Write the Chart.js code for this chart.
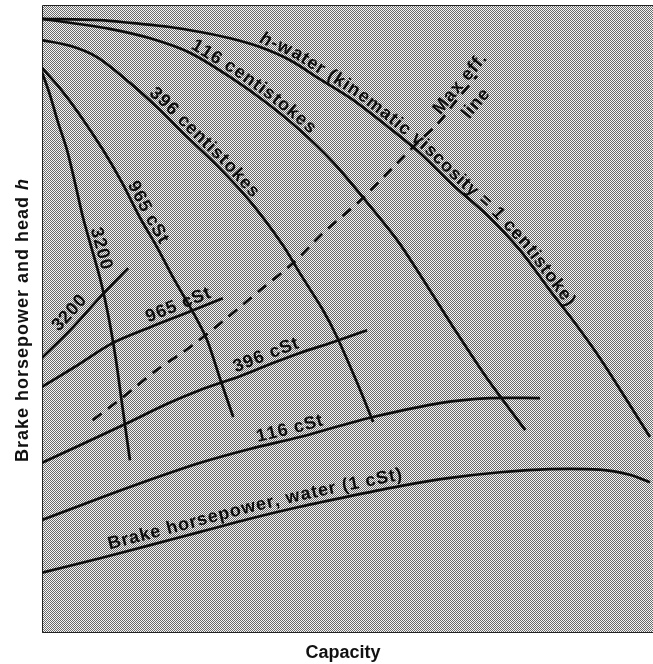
<!DOCTYPE html>
<html>
<head>
<meta charset="utf-8">
<script src="https://cdn.jsdelivr.net/npm/chart.js@4.4.1/dist/chart.umd.min.js"></script>
<style>
  html, body { margin: 0; padding: 0; background: #fff; }
  canvas { display: block; }
</style>
</head>
<body>
<canvas id="pump" width="653" height="664"></canvas>
<script>
// capacity (0-100) and head / bhp (0-100)

// head curves
var waterHeadX = [0, 9.5, 14.9, 20.9, 25.9, 30.8, 35.7, 40.6, 45.5, 50.9, 56.5, 61.9, 67.3, 72.8, 78.2, 83.1, 87.2, 91.3, 95.7, 99.5];
var waterHeadY = [97.8, 97.6, 97.1, 96.5, 95.7, 94.7, 93.3, 91.2, 88.2, 84.9, 80.7, 76.4, 71.3, 66.6, 61.0, 54.6, 49.4, 43.8, 37.1, 31.2];

var head116X = [0, 5.1, 11.1, 17.7, 24.2, 31.3, 36.8, 42.2, 47.6, 52.5, 58.1, 61.9, 67.3, 72.8, 79.1];
var head116Y = [97.8, 97.1, 96.2, 94.7, 92.4, 88.2, 84.4, 80.1, 75.0, 69.4, 62.6, 57.0, 48.7, 40.6, 32.3];

var head396X = [0, 4.6, 9.0, 14.4, 19.3, 23.1, 28.6, 34.0, 39.4, 42.2, 46.0, 48.3, 51.6, 54.2];
var head396Y = [94.4, 93.5, 91.7, 87.6, 83.3, 79.6, 74.5, 68.8, 61.8, 57.3, 51.4, 47.1, 39.8, 33.6];

var head965X = [0, 2.9, 6.2, 10.0, 13.1, 16.0, 18.8, 21.4, 24.7, 27.0, 29.1, 31.3];
var head965Y = [90.0, 86.8, 82.5, 76.9, 71.7, 66.2, 61.5, 56.7, 51.1, 46.7, 40.6, 34.4];

var head3200X = [0, 1.3, 2.6, 4.1, 5.4, 6.7, 8.2, 9.7, 11.0, 12.1, 12.9, 13.7, 14.4];
var head3200Y = [89.3, 85.7, 81.4, 76.9, 71.7, 66.2, 61.0, 55.7, 49.8, 43.5, 37.9, 32.3, 27.5];

// brake horsepower curves
var bhp3200X = [0, 4.6, 10.0, 14.1];
var bhp3200Y = [43.8, 48.2, 54.0, 58.1];

var bhp965X = [0, 5.4, 11.6, 17.7, 23.7, 29.6];
var bhp965Y = [39.2, 42.4, 46.2, 48.7, 51.0, 53.3];

var bhp396X = [0, 6.2, 13.9, 20.5, 25.9, 32.4, 37.3, 42.2, 47.6, 53.2];
var bhp396Y = [27.1, 29.9, 33.4, 36.5, 38.7, 40.9, 42.8, 44.6, 46.3, 48.2];

var bhp116X = [0, 9.5, 17.7, 25.9, 34.0, 42.2, 48.8, 54.2, 65.1, 73.3, 81.5];
var bhp116Y = [18.0, 21.5, 24.4, 27.1, 29.3, 31.2, 33.0, 34.4, 36.6, 37.4, 37.4];

var bhpWaterX = [0, 9.5, 17.7, 25.9, 34.0, 42.2, 50.4, 58.6, 66.8, 75.0, 83.1, 91.3, 96.2, 99.5];
var bhpWaterY = [9.6, 11.9, 14.0, 16.1, 18.2, 20.1, 21.8, 23.4, 24.7, 25.6, 26.1, 26.0, 25.2, 24.0];

// max efficiency line
var maxEffX = [8.3, 13.3, 18.8, 24.2, 30.3, 35.7, 41.1, 46.0, 52.0, 58.1, 61.9, 64.6, 67.9, 71.2];
var maxEffY = [33.9, 37.6, 41.9, 45.5, 50.2, 54.6, 58.9, 63.7, 68.8, 74.8, 78.5, 80.9, 84.9, 88.7];

var FONT = "'Liberation Sans', Arial, Helvetica, sans-serif";

function pts(xs, ys) {
    return xs.map(function (x, i) { return { x: x, y: ys[i] }; });
}

function curve(xs, ys, dashed) {
    return {
        data: pts(xs, ys),
        showLine: true,
        borderColor: '#0d0d0d',
        borderWidth: 2.7,
        borderDash: dashed ? [11, 8] : [],
        pointRadius: 0,
        tension: 0.3,
        fill: false
    };
}

var datasets = [
    curve(waterHeadX, waterHeadY),   // 0
    curve(head116X, head116Y),       // 1
    curve(head396X, head396Y),       // 2
    curve(head965X, head965Y),       // 3
    curve(head3200X, head3200Y),     // 4
    curve(bhp3200X, bhp3200Y),       // 5
    curve(bhp965X, bhp965Y),         // 6
    curve(bhp396X, bhp396Y),         // 7
    curve(bhp116X, bhp116Y),         // 8
    curve(bhpWaterX, bhpWaterY),     // 9
    curve(maxEffX, maxEffY, true)    // 10
];

// labels written along the curves: dataset, start capacity, offset (px, + = above)
var curveLabels = [
    { ds: 0, at: 35.2, off: 4, parts: [['h', 'italic bold'], ['-water (kinematic viscosity = 1 centistoke)', 'bold']] },
    { ds: 1, at: 23.9, off: 4, parts: [['116 centistokes', 'bold']] },
    { ds: 2, at: 17.0, off: 4, parts: [['396 centistokes', 'bold']] },
    { ds: 3, at: 13.4, off: 4, parts: [['965 cSt', 'bold']] },
    { ds: 4, at: 7.3, off: 4, parts: [['3200', 'bold']] },
    { ds: 5, at: 3.5, off: 7, parts: [['3200', 'bold']] },
    { ds: 6, at: 17.7, off: 5, parts: [['965 cSt', 'bold']] },
    { ds: 7, at: 32.0, off: 5, parts: [['396 cSt', 'bold']] },
    { ds: 8, at: 35.5, off: 5, parts: [['116 cSt', 'bold']] },
    { ds: 9, at: 11.3, off: 6, parts: [['Brake horsepower, water (1 cSt)', 'bold']] },
    { ds: 10, at: 65.6, off: 3, parts: [['Max eff.', 'bold']] },
    { ds: 10, at: 67.1, off: -22, parts: [['line', 'bold']] }
];

function pathWalker(p) {
    var cum = [0];
    for (var i = 1; i < p.length; i++) {
        cum.push(cum[i - 1] + Math.hypot(p[i].x - p[i - 1].x, p[i].y - p[i - 1].y));
    }
    function seg(i, s) {
        var L = cum[i + 1] - cum[i] || 1;
        var f = (s - cum[i]) / L;
        return { x: p[i].x + (p[i + 1].x - p[i].x) * f, y: p[i].y + (p[i + 1].y - p[i].y) * f };
    }
    return {
        at: function (s) {
            if (s <= 0) return seg(0, s);
            for (var i = 0; i < p.length - 1; i++) {
                if (s <= cum[i + 1]) return seg(i, s);
            }
            return seg(p.length - 2, s);
        },
        sAtX: function (x) {
            for (var i = 0; i < p.length - 1; i++) {
                if (x <= p[i + 1].x) {
                    var f = (x - p[i].x) / (p[i + 1].x - p[i].x);
                    return cum[i] + f * (cum[i + 1] - cum[i]);
                }
            }
            return cum[cum.length - 1];
        }
    };
}

var textOnCurves = {
    id: 'textOnCurves',
    afterDatasetsDraw: function (chart) {
        var ctx = chart.ctx;
        ctx.save();
        ctx.fillStyle = '#0d0d0d';
        ctx.textAlign = 'center';
        ctx.textBaseline = 'alphabetic';
        curveLabels.forEach(function (l) {
            var meta = chart.getDatasetMeta(l.ds);
            var w = pathWalker(meta.data.map(function (e) { return { x: e.x, y: e.y }; }));
            var s = w.sAtX(chart.scales.x.getPixelForValue(l.at));
            l.parts.forEach(function (part) {
                ctx.font = part[1] + ' 18px ' + FONT;
                part[0].split('').forEach(function (ch) {
                    var cw = ctx.measureText(ch).width;
                    var mid = s + cw / 2;
                    var a = w.at(mid - 4), b = w.at(mid + 4), c = w.at(mid);
                    var ang = Math.atan2(b.y - a.y, b.x - a.x);
                    var nx = Math.sin(ang), ny = -Math.cos(ang);
                    ctx.save();
                    ctx.translate(c.x + nx * l.off, c.y + ny * l.off);
                    ctx.rotate(ang);
                    ctx.fillText(ch, 0, 0);
                    ctx.restore();
                    s += cw + 0.9;
                });
            });
        });
        ctx.restore();
    }
};

var stipple = {
    id: 'stipple',
    beforeDraw: function (chart) {
        var ctx = chart.ctx, a = chart.chartArea;
        var pc = document.createElement('canvas');
        pc.width = 2; pc.height = 2;
        var p = pc.getContext('2d');
        p.fillStyle = '#f6f6f6'; p.fillRect(0, 0, 2, 2);
        p.fillStyle = '#6a6a6a'; p.fillRect(0, 0, 1, 1); p.fillRect(1, 1, 1, 1);
        ctx.save();
        ctx.fillStyle = ctx.createPattern(pc, 'repeat');
        ctx.fillRect(a.left, a.top, a.right - a.left, a.bottom - a.top);
        ctx.strokeStyle = '#222';
        ctx.lineWidth = 1;
        ctx.beginPath();
        ctx.moveTo(a.right, a.top + 0.5); ctx.lineTo(a.left + 0.5, a.top + 0.5);
        ctx.lineTo(a.left + 0.5, a.bottom - 0.5); ctx.lineTo(a.right, a.bottom - 0.5);
        ctx.stroke();
        ctx.restore();
    },
    afterDraw: function (chart) {
        var ctx = chart.ctx;
        ctx.save();
        ctx.fillStyle = '#111';
        ctx.textBaseline = 'alphabetic';
        ctx.font = 'bold 18px ' + FONT;
        ctx.textAlign = 'center';
        ctx.fillText('Capacity', 343, 658);

        // y title, with italic h
        var t1 = 'Brake horsepower and head ', t2 = 'h';
        ctx.letterSpacing = '1px';
        ctx.font = 'bold 18px ' + FONT;
        var w1 = ctx.measureText(t1).width;
        ctx.font = 'italic bold 18px ' + FONT;
        var w2 = ctx.measureText(t2).width;
        ctx.translate(28, 320);
        ctx.rotate(-Math.PI / 2);
        ctx.textAlign = 'left';
        ctx.font = 'bold 18px ' + FONT;
        ctx.fillText(t1, -(w1 + w2) / 2, 0);
        ctx.font = 'italic bold 18px ' + FONT;
        ctx.fillText(t2, -(w1 + w2) / 2 + w1, 0);
        ctx.restore();
    }
};

var pumpChart = new Chart(document.getElementById('pump'), {
    type: 'scatter',
    data: { datasets: datasets },
    options: {
        responsive: false,
        animation: false,
        devicePixelRatio: 1,
        layout: { padding: { left: 42, top: 5, right: 0, bottom: 31 } },
        scales: {
            x: { type: 'linear', min: 0, max: 100, display: false },
            y: { type: 'linear', min: 0, max: 100, display: false }
        },
        plugins: {
            legend: { display: false },
            tooltip: { enabled: false }
        }
    },
    plugins: [stipple, textOnCurves]
});
</script>
</body>
</html>
